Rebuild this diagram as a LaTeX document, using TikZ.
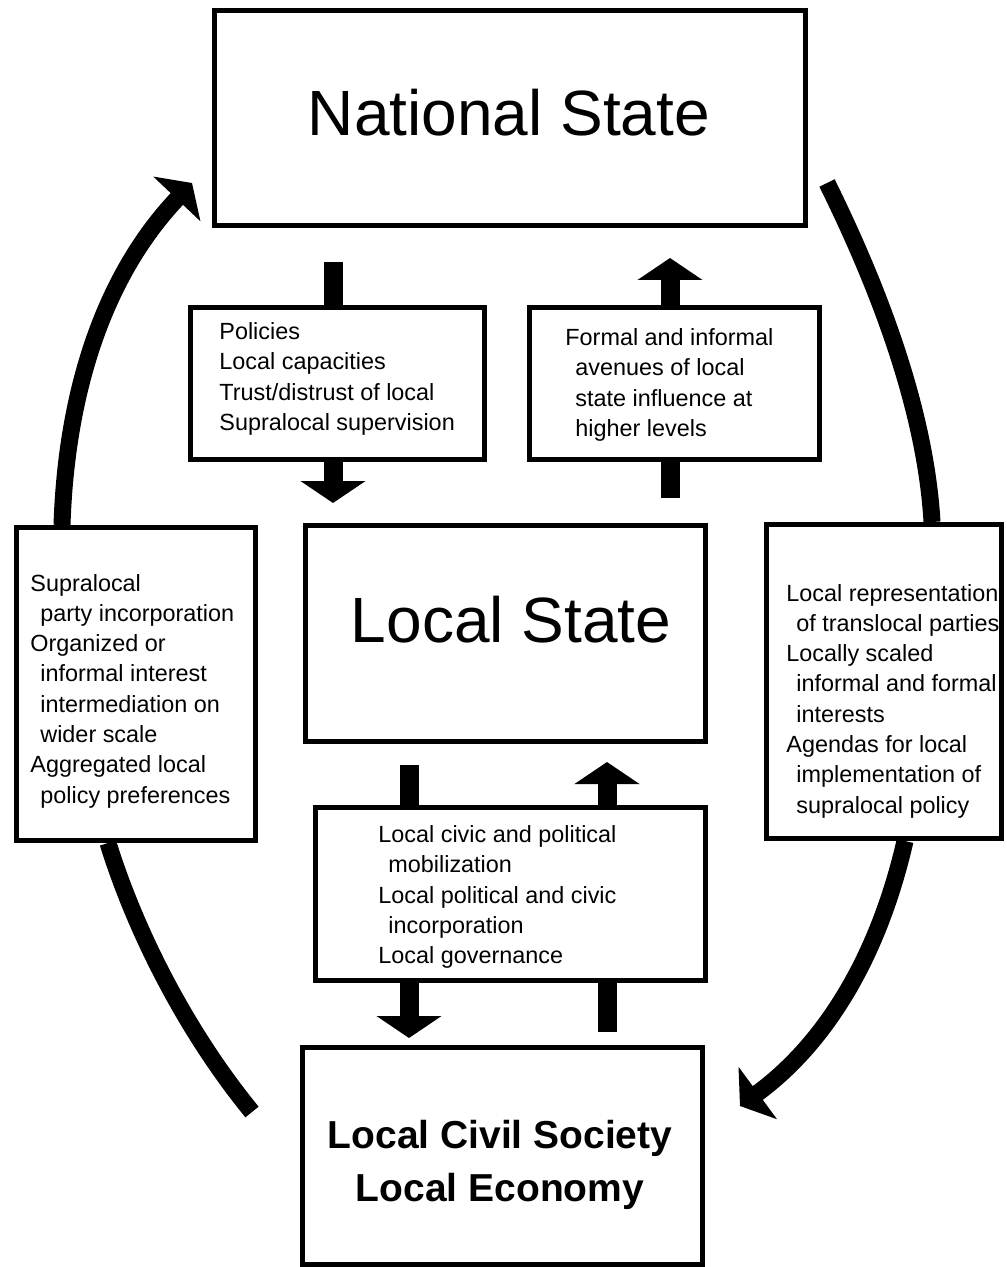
\documentclass[tikz,border=0pt]{standalone}
\usepackage{fontspec}
\setmainfont{Liberation Sans}
\usetikzlibrary{arrows.meta,backgrounds}

\begin{document}
\begin{tikzpicture}[x=0.5pt, y=-0.5pt,
  boxframe/.style={draw, line width=2.5pt, fill=white, inner sep=0pt},
  bigtext/.style={font=\fontsize{32}{38}\selectfont, inner sep=0pt},
  boldtext/.style={font=\bfseries\fontsize{19.5}{26.5}\selectfont, align=center, inner sep=0pt},
  smalltext/.style={font=\fontsize{11.7}{15.15}\selectfont, align=left, inner sep=0pt, anchor=west},
  blockarrow/.style={line width=9.5pt, -{Triangle[width=32pt,length=11pt]}},
  bigarc/.style={line width=8.5pt},
  bigarcarrow/.style={line width=8.5pt, -{Triangle[width=32pt,length=11pt]}}]
  \useasboundingbox (0,0) rectangle (1006,1267);

  % boxes
  \node [boxframe, minimum width=295.5pt, minimum height=107.5pt] (ns)  at (510,118)    {};
  \node [boxframe, minimum width=147pt,   minimum height=76pt]    (pol) at (337.5,383.5) {};
  \node [boxframe, minimum width=145pt,   minimum height=76pt]    (inf) at (674.5,383.5) {};
  \node [boxframe, minimum width=200pt,   minimum height=108pt]   (ls)  at (505.5,633.5) {};
  \node [boxframe, minimum width=119.5pt, minimum height=156.5pt] (lb)  at (136,684)     {};
  \node [boxframe, minimum width=117.5pt, minimum height=157pt]   (rb)  at (884,681.5)   {};
  \node [boxframe, minimum width=195pt,   minimum height=86.5pt]  (mid) at (510.5,894)   {};
  \node [boxframe, minimum width=200pt,   minimum height=108.5pt] (cs)  at (502.5,1156)  {};

  % texts
  \node [bigtext] (nst) at (509,113) {National State};
  \node [bigtext] (lst) at (511,620) {Local State};
  \node [boldtext] (cst) at (500,1165) {Local Civil Society\\Local Economy};
  \node [smalltext] (polt) at (219,379) {Policies\\Local capacities\\Trust/distrust of local\\Supralocal supervision};
  \node [smalltext] (inft) at (565,385) {Formal and informal\\\hspace*{5pt}avenues of local\\\hspace*{5pt}state influence at\\\hspace*{5pt}higher levels};
  \node [smalltext] (lbt) at (30,691) {Supralocal\\\hspace*{5pt}party incorporation\\Organized or\\\hspace*{5pt}informal interest\\\hspace*{5pt}intermediation on\\\hspace*{5pt}wider scale\\Aggregated local\\\hspace*{5pt}policy preferences};
  \node [smalltext] (rbt) at (786,701) {Local representation\\\hspace*{5pt}of translocal parties\\Locally scaled\\\hspace*{5pt}informal and formal\\\hspace*{5pt}interests\\Agendas for local\\\hspace*{5pt}implementation of\\\hspace*{5pt}supralocal policy};
  \node [smalltext] (midt) at (378,897) {Local civic and political\\\hspace*{5pt}mobilization\\Local political and civic\\\hspace*{5pt}incorporation\\Local governance};

  % straight arrows, behind the boxes
  \coordinate (a1s) at (333,262);  \coordinate (a1e) at (333,503);
  \coordinate (a2s) at (670,498);  \coordinate (a2e) at (670,258);
  \coordinate (a3s) at (409,765);  \coordinate (a3e) at (409,1038);
  \coordinate (a4s) at (607,1032); \coordinate (a4e) at (607,762);
  \begin{scope}[on background layer]
    \draw [blockarrow] (a1s) -- (a1e);
    \draw [blockarrow] (a2s) -- (a2e);
    \draw [blockarrow] (a3s) -- (a3e);
    \draw [blockarrow] (a4s) -- (a4e);
  \end{scope}

  % the outer cycle
  \draw [bigarcarrow] ([xshift=24pt]lb.north west) .. controls (66,400) and (100,280) .. ([xshift=-10pt,yshift=22.5pt]ns.south west);
  \draw [bigarc] ([xshift=9.5pt,yshift=22.5pt]ns.south east) .. controls (870,270) and (925,400) .. ([xshift=84pt]rb.north west);
  \draw [bigarc] ([xshift=47pt]lb.south west) .. controls (135,930) and (185,1030) .. ([xshift=-24pt,yshift=-33.5pt]cs.north west);
  \draw [bigarcarrow] ([xshift=70.5pt]rb.south west) .. controls (880,950) and (830,1040) .. ([xshift=17.5pt,yshift=-30.5pt]cs.north east);
\end{tikzpicture}
\end{document}
